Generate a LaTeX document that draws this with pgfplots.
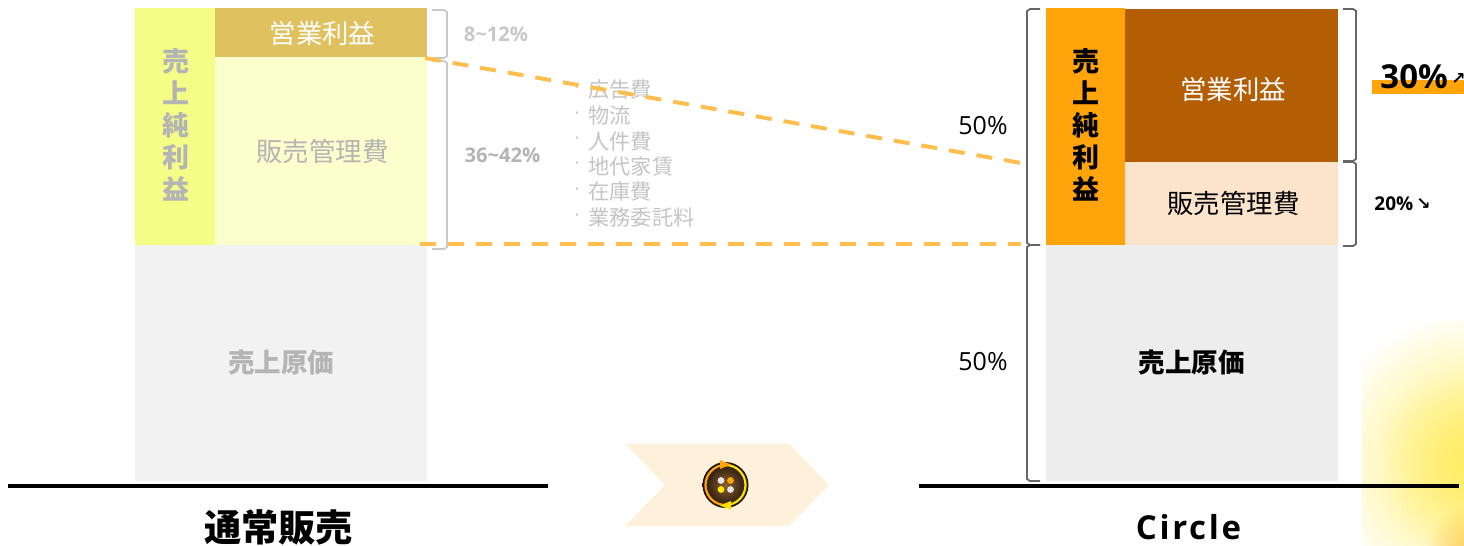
\documentclass[border=0pt]{standalone}
\usepackage{pgfplots}
\pgfplotsset{compat=1.18}
\usetikzlibrary{fadings}
\usepackage{fontspec}
\setmainfont{Open Sans}
\newfontfamily\jp{Noto Sans CJK JP}
\newfontfamily\sym{DejaVu Sans}
\definecolor{netL}{HTML}{F4FE87}
\definecolor{opL}{HTML}{DFC25F}
\definecolor{sgaL}{HTML}{FBFFCC}
\definecolor{cogsL}{HTML}{F2F2F2}
\definecolor{netR}{HTML}{FFA40A}
\definecolor{opR}{HTML}{B35E04}
\definecolor{sgaR}{HTML}{FCE4CC}
\definecolor{cogsR}{HTML}{EDEDED}
\definecolor{linkc}{HTML}{FFBE4D}
\definecolor{brL}{HTML}{C8C8C8}
\definecolor{brR}{HTML}{666666}
\definecolor{chev}{HTML}{FDF1DC}
\definecolor{glow}{HTML}{FFEC60}
\definecolor{grayA}{HTML}{B4B4B4}
\definecolor{grayB}{HTML}{C4C4C4}
\tikzfading[name=softspot, inner color=transparent!0, outer color=transparent!100]
\tikzset{
  lab/.style={font=\jp\fontsize{13.2}{14}\selectfont, inner sep=0pt},
  blab/.style={font=\jp\bfseries\fontsize{13.25}{14}\selectfont, inner sep=0pt},
  stackv/.style={align=center, font=\jp\bfseries\fontsize{13.5}{16}\selectfont, inner sep=0pt},
  list/.style={inner sep=0pt, anchor=west, text=grayB, font=\jp\fontsize{10.6}{12}\selectfont},
  bul/.style={inner sep=0pt, text=grayB, font=\fontsize{9}{10}\selectfont},
}
\newcommand{\vlabel}{売\\上\\純\\利\\益}
\begin{document}
\begin{tikzpicture}
\begin{axis}[
  scale only axis, width=732pt, height=273pt,
  xmin=0, xmax=1464, ymin=0, ymax=546, y dir=reverse,
  axis lines=none, clip=true, ticks=none,
  every axis plot/.append style={forget plot},
]
% page frame, keeps the whole drawing area in the picture
\path (axis cs:0,0) rectangle (axis cs:1464,546);

% corner glow
\begin{scope}
  \clip (axis cs:1362,320) rectangle (axis cs:1464,546);
  \fill[overlay, glow, path fading=softspot] (axis cs:1474,462) circle (76pt);
  \fill[overlay, glow, opacity=0.6, path fading=softspot] (axis cs:1474,462) circle (48pt);
  \fill[overlay, orange!75!yellow, opacity=0.55, path fading=softspot] (axis cs:1475,556) circle (26pt);
\end{scope}

% regular sales blocks
\addplot[fill=netL, draw=none] coordinates {(135,8) (215,8) (215,245) (135,245)} --cycle;
\addplot[fill=opL, draw=none] coordinates {(215,8) (427,8) (427,57) (215,57)} --cycle;
\addplot[fill=sgaL, draw=none] coordinates {(215,57) (427,57) (427,245) (215,245)} --cycle;
\addplot[fill=cogsL, draw=none] coordinates {(135,245) (427,245) (427,481) (135,481)} --cycle;

% Circle blocks
\addplot[fill=netR, draw=none] coordinates {(1046,8) (1125,8) (1125,245) (1046,245)} --cycle;
\addplot[fill=opR, draw=none] coordinates {(1125,9) (1338,9) (1338,162) (1125,162)} --cycle;
\addplot[fill=sgaR, draw=none] coordinates {(1125,162) (1338,162) (1338,245) (1125,245)} --cycle;
\addplot[fill=cogsR, draw=none] coordinates {(1046,245) (1338,245) (1338,481) (1046,481)} --cycle;

% baselines
\addplot[black, line width=2pt] coordinates {(8,486) (548,486)};
\addplot[black, line width=2pt] coordinates {(919,486) (1459,486)};

% brackets, regular sales
\addplot[brL, line width=0.9pt, line join=round] coordinates {(432,10) (444,10) (447,12) (447,56) (444,58) (432,58)};
\addplot[brL, line width=0.9pt, line join=round] coordinates {(432,61) (444,61) (447,63) (447,247) (444,249) (432,249)};
% brackets, Circle
\addplot[brR, line width=0.9pt, line join=round] coordinates {(1040,9) (1030,9) (1027,11) (1027,243) (1030,245) (1040,245)};
\addplot[brR, line width=0.9pt, line join=round] coordinates {(1040,245) (1030,245) (1027,247) (1027,479) (1030,481) (1040,481)};
\addplot[brR, line width=0.9pt, line join=round] coordinates {(1343,9) (1353,9) (1356,11) (1356,159) (1353,161) (1343,161)};
\addplot[brR, line width=0.9pt, line join=round] coordinates {(1343,162) (1353,162) (1356,164) (1356,244) (1353,246) (1343,246)};

% highlight behind the 30 percent figure
\addplot[fill=netR, draw=none] coordinates {(1372,80) (1464,80) (1464,94) (1372,94)} --cycle;

% arrow shape with the logo
\addplot[fill=chev, draw=none] coordinates {(625,443.5) (789,443.5) (829,485) (789,526) (625,526) (665,485)} --cycle;

% block labels
\node[inner sep=0pt, text=white, font=\jp\fontsize{13.2}{14}\selectfont] at (axis cs:322.5,33) {営業利益};
\node[lab, text=grayA] at (axis cs:322.5,151) {販売管理費};
\node[blab, text=grayA] at (axis cs:281,363) {売上原価};
\node[stackv, text=grayA] at (axis cs:175.5,125) {\vlabel};
\node[stackv, text=black] at (axis cs:1086,125) {\vlabel};
\node[inner sep=0pt, text=white, font=\jp\fontsize{13.2}{14}\selectfont] at (axis cs:1233,89) {営業利益};
\node[lab, text=black] at (axis cs:1233.5,203) {販売管理費};
\node[blab, text=black] at (axis cs:1191.5,363) {売上原価};

% percentages
\node[inner sep=0pt, text=brL, font=\bfseries\fontsize{10.1}{11}\selectfont] at (axis cs:496,34) {8\char"007E 12\%};
\node[inner sep=0pt, text=grayA, font=\bfseries\fontsize{10.1}{11}\selectfont] at (axis cs:502.5,155) {36\char"007E 42\%};
\node[inner sep=0pt, font=\fontsize{12.5}{13}\selectfont] at (axis cs:983,126) {50\%};
\node[inner sep=0pt, font=\fontsize{12.5}{13}\selectfont] at (axis cs:983,362) {50\%};
\node[inner sep=0pt, anchor=west, font=\bfseries\fontsize{16.5}{17}\selectfont] at (axis cs:1380,77) {30\%};
\node[inner sep=0pt, anchor=west, font=\sym\bfseries\fontsize{8.5}{9}\selectfont] at (axis cs:1451,79) {↗};
\node[inner sep=0pt, anchor=west, font=\bfseries\fontsize{9.5}{11}\selectfont] at (axis cs:1374,203.5) {20\%};
\node[inner sep=0pt, anchor=west, font=\sym\bfseries\fontsize{8.5}{9}\selectfont] at (axis cs:1416,203.5) {↘};

% cost list
\node[list] at (axis cs:588,90) {広告費};
\node[list] at (axis cs:588,115.5) {物流};
\node[list] at (axis cs:588,141) {人件費};
\node[list] at (axis cs:588,166) {地代家賃};
\node[list] at (axis cs:588,191.5) {在庫費};
\node[list] at (axis cs:588,217.5) {業務委託料};
\node[bul] at (axis cs:577,90) {·};
\node[bul] at (axis cs:577,115.5) {·};
\node[bul] at (axis cs:577,141) {·};
\node[bul] at (axis cs:577,166) {·};
\node[bul] at (axis cs:577,191.5) {·};
\node[bul] at (axis cs:577,217.5) {·};

% dashed links between the two stacks
\addplot[linkc, line width=2pt, dash pattern=on 8pt off 6pt] coordinates {(425,58) (1021,163)};
\addplot[linkc, line width=2pt, dash pattern=on 8pt off 6pt] coordinates {(420,244) (1021,244)};

% titles
\node[inner sep=0pt, font=\jp\bfseries\fontsize{18.6}{20}\selectfont] at (axis cs:278.5,527) {通常販売};
\node[inner sep=0pt, font=\bfseries\fontsize{16.5}{19}\addfontfeatures{LetterSpace=8}\selectfont] at (axis cs:1188.5,527) {Circle};

% logo
\shade[inner color=brown!75!black, outer color=black!85!brown] (axis cs:725.5,485) circle (11.5pt);
\draw[netR, line width=1.1pt] (axis cs:725.5,465) arc[start angle=90, end angle=270, radius=10pt];
\draw[yellow!85!orange, line width=1.1pt] (axis cs:725.5,505) arc[start angle=-90, end angle=90, radius=10pt];
\fill[netR] (axis cs:731,464.5) -- (axis cs:720,460) -- (axis cs:720,469) -- cycle;
\fill[yellow!85!orange] (axis cs:720,505.5) -- (axis cs:731,501) -- (axis cs:731,510) -- cycle;
\fill[black!10] (axis cs:721,480.5) circle (1.7pt);
\fill[netR] (axis cs:730.5,480.5) circle (1.7pt);
\fill[yellow!90!orange] (axis cs:721,489.5) circle (1.7pt);
\fill[black!10] (axis cs:730.5,489.5) circle (1.7pt);
\end{axis}
\end{tikzpicture}
\end{document}
